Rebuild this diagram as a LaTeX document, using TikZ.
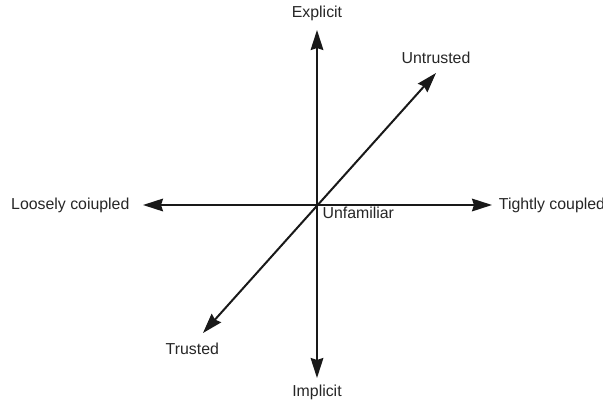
\documentclass[tikz,border=0pt]{standalone}
\usepackage{fontspec}
\setmainfont{Liberation Sans}
\usetikzlibrary{arrows.meta,positioning}

\begin{document}
\begin{tikzpicture}[x=0.75pt,y=0.75pt]
				\tikzset{axis/.style={draw,line width=1.5pt,color=black!90,{Stealth[length=15pt,width=9.5pt,inset=1.5pt]}-{Stealth[length=15pt,width=9.5pt,inset=1.5pt]}},
					lbl/.style={inner sep=0pt,font=\fontsize{11.9}{14}\selectfont,text=black!85}}
				\useasboundingbox (0,0) rectangle (603,404);
				\coordinate (o) at (317,199);
				\coordinate (top) at (317,374);
				\coordinate (bottom) at (317,26);
				\coordinate (west) at (143,199);
				\coordinate (east) at (492,199);
				\coordinate (ur) at (436,331);
				\coordinate (ll) at (203,71);
				\node [lbl, above =7pt of top] (explicit) {Explicit};
				\node [lbl, below =5pt of bottom] (implicit) {Implicit};
				\node [lbl, left =10pt of west] (loose) {Loosely coiupled};
				\node [lbl, right =5pt of east] (tight) {Tightly coupled};
				\node [lbl, above =7pt of ur] (untrusted) {Untrusted};
				\node [lbl, below =7pt of ll, xshift=-8pt] (trusted) {Trusted};
				\node [lbl, below right =1pt and 4pt of o] (unfamiliar) {Unfamiliar};
				\draw[axis] (bottom) -- (top);
				\draw[axis] (west) -- (east);
				\draw[axis] (ll) -- (ur);
			\end{tikzpicture}
\end{document}
